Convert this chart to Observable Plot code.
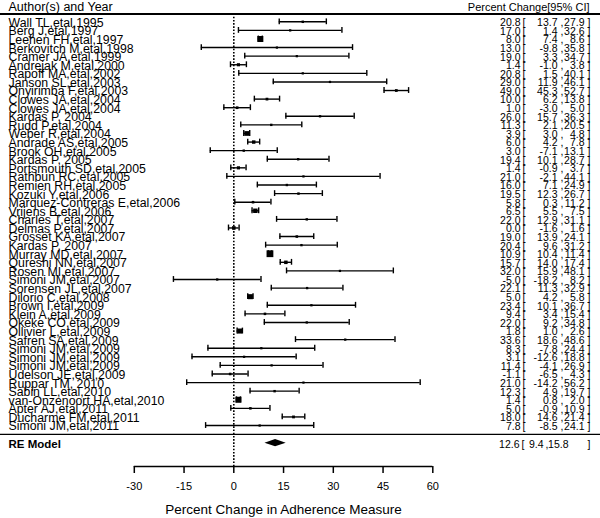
<!DOCTYPE html>
<html><head><meta charset="utf-8">
<script src="https://cdn.jsdelivr.net/npm/d3@7"></script>
<script src="https://cdn.jsdelivr.net/npm/@observablehq/plot@0.6"></script>
<style>html,body{margin:0;padding:0;background:#fff} #chart svg{display:block}</style>
</head><body><div id="chart"></div>
<script>
const labels = ["Wall TL,etal,1995","Berg J,etal,1997","Leehen FH,etal,1997","Berkovitch M,etal,1998","Cramer JA,etal,1999","Andrejak M,etal,2000","Rapoff MA,etal,2002","Janson SL,etal,2003","Onyirimba F,etal,2003","Clowes JA,etal,2004","Clowes JA,etal,2004","Kardas P, 2004","Rudd P,etal,2004","Weber R,etal,2004","Andrade AS,etal,2005","Brook OH,etal,2005","Kardas P, 2005","Portsmouth SD,etal,2005","Rathbun RC,etal,2005","Remien RH,etal,2005","Kozuki Y,etal,2006","Marquez-Contreras E,etal,2006","Vrijens B,etal,2006","Charles T,etal,2007","Delmas P,etal,2007","Grosset KA,etal,2007","Kardas P, 2007","Murray MD,etal,2007","Qureshi NN,etal,2007","Rosen MI,etal,2007","Simoni JM,etal,2007","Sorensen JL,etal,2007","Dilorio C,etal,2008","Brown I,etal,2009","Klein A,etal,2009","Okeke CO,etal,2009","Ollivier L,etal,2009","Safren SA,etal,2009","Simoni JM,etal,2009","Simoni JM,etal,2009","Simoni JM,etal,2009","Udelson JE,etal,2009","Ruppar TM, 2010","Sabin LL,etal,2010","van-Onzenoort HA,etal,2010","Apter AJ,etal,2011","Ducharme FM,etal,2011","Simoni JM,etal,2011"];
const estimates = [20.8,17.0,8.0,13.0,19.0,1.4,20.8,29.0,49.0,10.0,1.0,26.0,11.3,3.9,6.0,3.0,19.4,1.4,21.0,16.0,19.5,5.8,6.5,22.0,0.0,19.0,20.4,10.9,15.7,32.0,-5.0,22.1,5.0,23.4,9.4,22.0,1.8,33.6,8.3,3.1,11.4,-1.1,21.0,12.3,1.4,5.0,18.0,7.8];
const lowers = [13.7,1.4,7.4,-9.8,3.3,-1.0,1.5,11.9,45.3,6.2,-3.0,15.7,2.1,3.0,4.2,-7.1,10.1,-0.9,-2.1,7.1,12.3,0.3,5.5,12.9,-1.6,13.9,9.6,10.4,14.0,15.9,-18.2,11.3,4.2,10.1,3.4,9.2,1.0,18.6,-7.8,-12.6,-4.1,-6.5,-14.2,4.9,0.8,-0.9,14.6,-8.5];
const uppers = [27.9,32.6,8.6,35.8,34.7,3.8,40.1,46.1,52.7,13.8,5.0,36.3,20.5,4.8,7.8,13.1,28.7,3.7,44.1,24.9,26.7,11.2,7.5,31.1,1.6,24.1,31.2,11.4,17.4,48.1,8.2,32.9,5.8,36.7,15.4,34.8,2.6,48.6,24.4,18.8,26.9,4.3,56.2,19.7,2.0,10.9,21.4,24.1];
const summaryLabel = "RE Model";
const summaryEst = 12.6, summaryLo = 9.4, summaryHi = 15.8;
const xTicks = [-30, -15, 0, 15, 30, 45, 60];
const headerLeft = "Author(s) and Year";
const headerRight = "Percent Change[95% CI]";
const xTitle = "Percent Change in Adherence Measure";

const fmt = v => v.toFixed(1);
const rows = labels.map((label, i) => {
  const se = (uppers[i] - lowers[i]) / (2 * 1.96);
  return {i, label, est: estimates[i], lo: lowers[i], hi: uppers[i], prec: 1 / se};
});
const pmin = d3.min(rows, d => d.prec), pmax = d3.max(rows, d => d.prec);
rows.forEach(d => { d.side = 2.2 + 4.6 * (d.prec - pmin) / (pmax - pmin); });
const caps = rows.flatMap(d => [{i: d.i, v: d.lo}, {i: d.i, v: d.hi}]);

const yHeader = -1.68, yHeaderLine = -0.91, ySumLine = 48.04, ySum = 49.06, yAxis = 51.77, yTitle = 56.8;
const diamond = [
  {x: summaryLo, y1: ySum, y2: ySum},
  {x: summaryEst, y1: ySum - 0.42, y2: ySum + 0.42},
  {x: summaryHi, y1: ySum, y2: ySum}
];

const F = "'Liberation Sans Narrow','Arial Narrow','Liberation Sans',Arial,sans-serif";
const FA = "'Liberation Sans',Arial,sans-serif";
const T = {fontFamily: F, fill: "#000", fontSize: 10.5, dy: 1};

const plot = Plot.plot({
  width: 600, height: 518,
  marginLeft: 0, marginRight: 0, marginTop: 0, marginBottom: 52,
  style: {fontFamily: FA, background: "#fff", color: "#000"},
  x: {domain: [-70.34, 110.56], axis: null},
  y: {domain: [yAxis, -2.48], axis: null},
  r: {type: "identity"},
  marks: [
    Plot.ruleY([yHeaderLine], {stroke: "#000", strokeWidth: 2.2}),
    Plot.ruleY([ySumLine], {stroke: "#000", strokeWidth: 1.2}),
    Plot.ruleX([0], {y1: yHeaderLine, y2: yAxis, stroke: "#000", strokeWidth: 1.6, strokeDasharray: "1.6,1.6"}),
    Plot.ruleY(rows, {y: "i", x1: "lo", x2: "hi", stroke: "#000", strokeWidth: 1.4}),
    Plot.ruleX(caps, {x: "v", y1: d => d.i - 0.34, y2: d => d.i + 0.34, stroke: "#000", strokeWidth: 1.4}),
    Plot.dot(rows, {x: "est", y: "i", symbol: "square", r: d => d.side / Math.sqrt(Math.PI), fill: "#000", stroke: null}),
    Plot.areaY(diamond, {x: "x", y1: "y1", y2: "y2", fill: "#000", curve: "linear"}),
    Plot.ruleY([yAxis], {x1: -30, x2: 60, stroke: "#000", strokeWidth: 1.5}),
    Plot.axisX({ticks: xTicks, tickSize: 7, tickPadding: 9, fontSize: 11, strokeWidth: 1.5, label: null, anchor: "bottom", tickFormat: d => String(d)}),
    Plot.text([xTitle], {x: 15, y: yTitle, text: d => d, fontSize: 13.5, fontFamily: FA, fill: "#000"}),
    Plot.text([headerLeft], {y: yHeader, text: d => d, frameAnchor: "left", dx: 8, textAnchor: "start", fontSize: 12.5, fontFamily: F, fill: "#000"}),
    Plot.text([headerRight], {y: yHeader, text: d => d, frameAnchor: "right", dx: -11, textAnchor: "end", fontSize: 11, fontFamily: F, fill: "#000"}),
    Plot.text(rows, {...T, y: "i", text: "label", frameAnchor: "left", dx: 8, textAnchor: "start", fontSize: 12.3}),
    Plot.text(rows, {...T, y: "i", text: d => fmt(d.est), frameAnchor: "right", dx: -80, textAnchor: "end"}),
    Plot.text(rows, {...T, y: "i", text: d => "[", frameAnchor: "right", dx: -78, textAnchor: "start"}),
    Plot.text(rows, {...T, y: "i", text: d => fmt(d.lo), frameAnchor: "right", dx: -43, textAnchor: "end"}),
    Plot.text(rows, {...T, y: "i", text: d => ",", frameAnchor: "right", dx: -40, textAnchor: "start"}),
    Plot.text(rows, {...T, y: "i", text: d => fmt(d.hi), frameAnchor: "right", dx: -16, textAnchor: "end"}),
    Plot.text(rows, {...T, y: "i", text: d => "]", frameAnchor: "right", dx: -13, textAnchor: "start"}),
    Plot.text([summaryLabel], {...T, y: ySum, text: d => d, frameAnchor: "left", dx: 8, textAnchor: "start", fontSize: 11.5, fontWeight: "bold"}),
    Plot.text([summaryEst], {...T, y: ySum, text: d => fmt(d), frameAnchor: "right", dx: -81, textAnchor: "end"}),
    Plot.text(["["], {...T, y: ySum, text: d => d, frameAnchor: "right", dx: -79, textAnchor: "start"}),
    Plot.text([summaryLo], {...T, y: ySum, text: d => fmt(d), frameAnchor: "right", dx: -57, textAnchor: "end"}),
    Plot.text([","], {...T, y: ySum, text: d => d, frameAnchor: "right", dx: -55, textAnchor: "start"}),
    Plot.text([summaryHi], {...T, y: ySum, text: d => fmt(d), frameAnchor: "right", dx: -32, textAnchor: "end"}),
    Plot.text(["]"], {...T, y: ySum, text: d => d, frameAnchor: "right", dx: -13, textAnchor: "start"})
  ]
});
document.getElementById("chart").appendChild(plot);
</script>
</body></html>
